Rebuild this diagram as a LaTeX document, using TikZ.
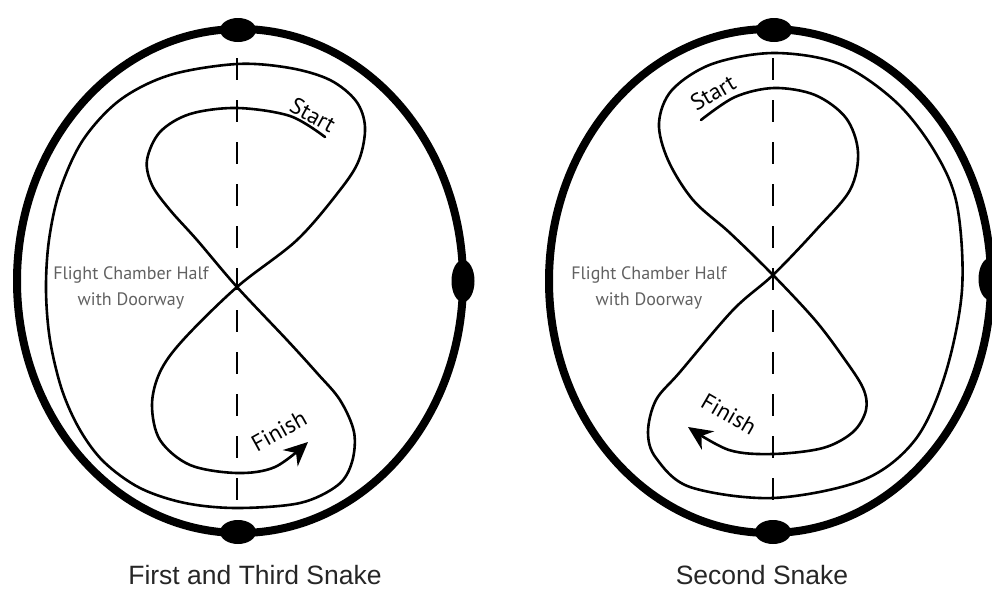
\documentclass[tikz,border=0pt]{standalone}
\usepackage{fontspec}
\newfontfamily\markfont{PT Sans}
\newfontfamily\capfont{Liberation Sans}
\usetikzlibrary{arrows.meta,positioning}

\tikzset{
  wall/.style={line width=8pt},
  route/.style={line width=2.6pt, line join=round, line cap=round},
  midline/.style={line width=2.8pt, dash pattern=on 22pt off 20pt},
  marker/.style={font=\markfont\fontsize{23}{26}\selectfont, inner sep=0pt},
  chamber/.style={font=\markfont\fontsize{18}{26}\selectfont, text=black!62, align=center, inner sep=0pt},
  caption/.style={font=\capfont\fontsize{26.5}{30}\selectfont, text=black!85, anchor=base, inner sep=0pt},
  finisharrow/.style={-{Stealth[length=24pt,width=22pt]}}
}

\begin{document}
\begin{tikzpicture}[x=1pt,y=-1pt]
\useasboundingbox (0,0) rectangle (992,589);

\draw[wall] (240,281) ellipse [x radius=223pt, y radius=252pt];
\fill (238,30) ellipse [x radius=18pt, y radius=12pt];
\fill (238,532) ellipse [x radius=18pt, y radius=12pt];
\fill (463,281) ellipse [x radius=11.5pt, y radius=21pt];
\draw[midline] (237,58) -- (237,504);

\draw[route, finisharrow] plot[smooth, tension=0.55] coordinates {
  (325,137) (290,116) (237,108) (190,114) (160,132) (147,160) (152,185)
  (170,210) (197,240) (237,287) (287,340) (317,373) (340,400) (354,432)
  (352,462) (338,485) (300,503) (237,508) (185,503) (140,488) (104,462)
  (80,430) (62,390) (50,340) (46,290) (49,240) (60,190) (83,140)
  (120,100) (170,75) (237,64) (290,68) (330,80) (356,101) (365,127)
  (359,160) (340,190) (297,240) (237,287) (183,340) (160,372) (152,405)
  (160,440) (190,465) (237,473) (275,467) (308,442)};

\node[marker, rotate=-29] (startL) at (313,115) {Start};
\node[marker, rotate=29] (finishL) at (279,431) {Finish};
\node[chamber] (chamberL) at (131,288) {Flight Chamber Half\\with Doorway};
\node[caption] (capL) at (255,584) {First and Third Snake};

\draw[wall] (770,281) ellipse [x radius=221pt, y radius=252pt];
\fill (774,30) ellipse [x radius=18pt, y radius=12pt];
\fill (773,532) ellipse [x radius=18pt, y radius=12pt];
\fill (990,279) ellipse [x radius=11.5pt, y radius=21pt];
\draw[midline] (773,58) -- (773,504);

\draw[route, finisharrow] plot[smooth, tension=0.55] coordinates {
  (701,120) (735,97) (774,88) (815,95) (846,118) (858,152) (850,190)
  (816,230) (773,275) (733,310) (680,372) (656,400) (648,432) (656,458)
  (690,487) (773,498) (863,480) (915,440) (945,375) (962,290) (957,205)
  (935,152) (896,102) (840,64) (774,53) (712,64) (672,90) (659,123)
  (668,160) (693,200) (730,233) (773,275) (815,320) (843,357) (863,388)
  (866,410) (853,432) (823,448) (773,454) (729,450) (688,427)};

\node[marker, rotate=30] (startR) at (713,93) {Start};
\node[marker, rotate=-30] (finishR) at (729,414) {Finish};
\node[chamber] (chamberR) at (649,288) {Flight Chamber Half\\with Doorway};
\node[caption] (capR) at (762,584) {Second Snake};
\end{tikzpicture}
\end{document}
